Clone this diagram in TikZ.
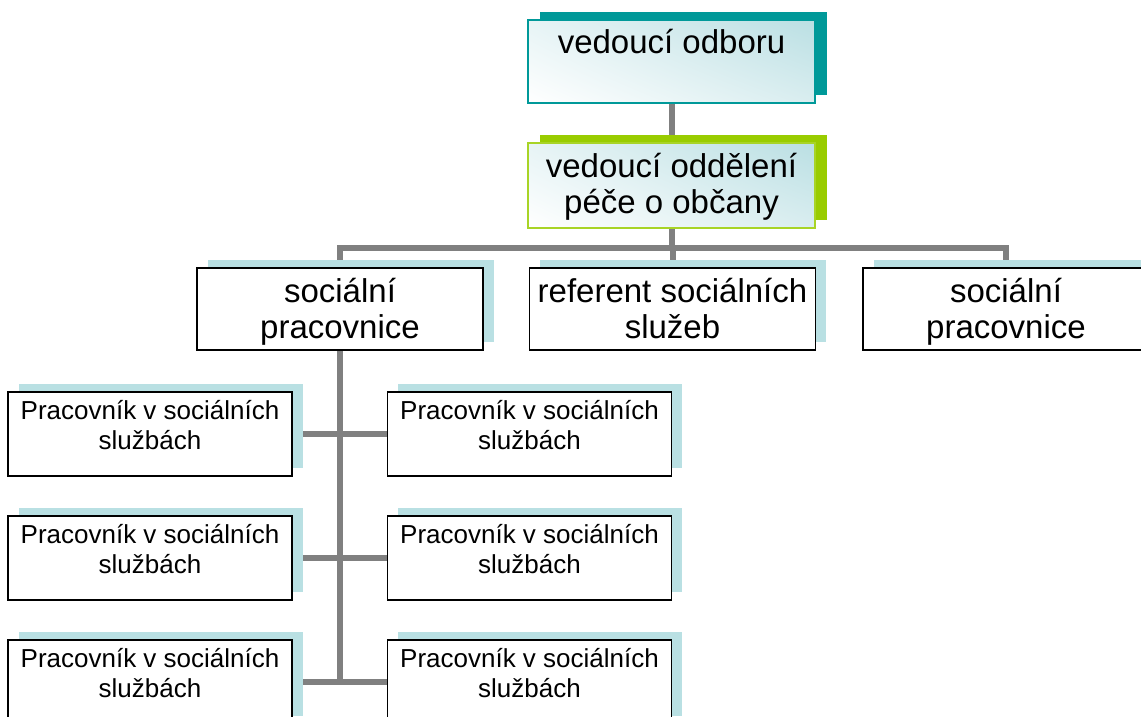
\documentclass[tikz,border=0pt]{standalone}
\usepackage{fontspec}
\newfontfamily\orgfont{Liberation Sans}
\usetikzlibrary{shadings}
\pgfdeclarelayer{lines}
\pgfdeclarelayer{shadows}
\pgfsetlayers{lines,shadows,main}
\definecolor{tealsh}{RGB}{0,153,153}
\definecolor{greensh}{RGB}{153,204,0}
\definecolor{bluesh}{RGB}{185,224,227}
\definecolor{linkgray}{RGB}{128,128,128}
\definecolor{shadeA}{RGB}{186,223,227}
\begin{document}
\begin{tikzpicture}[x=1pt,y=-1pt,
  box/.style={rectangle, inner sep=0pt, outer sep=0pt, draw=black, line width=1.5pt, fill=white},
  gradbox/.style={rectangle, inner sep=0pt, outer sep=0pt, line width=1.3pt,
    lower left=white, upper right=shadeA, upper left=shadeA!35!white, lower right=shadeA!55!white},
  topbox/.style={gradbox, draw=tealsh, minimum width=287pt, minimum height=83pt},
  secbox/.style={gradbox, draw=greensh!85!white, line width=1.6pt, minimum width=287pt, minimum height=85pt},
  midbox/.style={box, minimum width=286pt, minimum height=82pt},
  lowbox/.style={box, minimum width=284pt, minimum height=84pt},
  biglabel/.style={align=center, inner sep=0pt, font=\orgfont\fontsize{33}{36}\selectfont},
  smalllabel/.style={align=center, inner sep=0pt, font=\orgfont\fontsize{26}{30}\selectfont},
  link/.style={draw=linkgray, line width=6pt},
]
\useasboundingbox (0,0) rectangle (1141,717);
\clip (0,0) rectangle (1141,717);

% boxes
\node[topbox] (top) at (671.5,61.5) {};
\node[secbox] (sec) at (671.5,185.5) {};
\node[midbox] (sp1) at (340,309) {};
\node[midbox] (ref) at (672.5,309) {};
\node[midbox] (sp2) at (1006,309) {};
\node[lowbox] (w1l) at (150,434) {};
\node[lowbox] (w1r) at (529.5,434) {};
\node[lowbox] (w2l) at (150,558) {};
\node[lowbox] (w2r) at (529.5,558) {};
\node[lowbox] (w3l) at (150,682) {};
\node[lowbox] (w3r) at (529.5,682) {};

% labels
\node[biglabel] (ttop) at (671.5,46.8) {vedoucí odboru\strut};
\node[biglabel] (tsec) at (671.5,187.8) {vedoucí oddělení\strut\\péče o občany\strut};
\node[biglabel] (tsp1) at (340,312.8) {sociální\strut\\pracovnice\strut};
\node[biglabel] (tref) at (672.5,312.8) {referent sociálních\strut\\služeb\strut};
\node[biglabel] (tsp2) at (1006,312.8) {sociální\strut\\pracovnice\strut};
\foreach \n/\x/\y in {a/150/428, b/529.5/428, c/150/552, d/529.5/552, e/150/676, f/529.5/676}
  \node[smalllabel] (tw\n) at (\x,\y) {Pracovník v sociálních\strut\\službách\strut};

% shadows
\begin{pgfonlayer}{shadows}
  \clip (0,0) rectangle (1141,717);
  \fill[tealsh] ([shift={(11.5,-8)}]top.south west) rectangle ([shift={(11.5,-8)}]top.north east);
  \fill[greensh] ([shift={(11.5,-8)}]sec.south west) rectangle ([shift={(11.5,-8)}]sec.north east);
  \foreach \b in {sp1,ref,sp2,w1l,w1r,w2l,w2r,w3l,w3r}
    \fill[bluesh] ([shift={(10.5,-8)}]\b.south west) rectangle ([shift={(10.5,-8)}]\b.north east);
\end{pgfonlayer}

% connectors
\begin{pgfonlayer}{lines}
  \clip (0,0) rectangle (1141,717);
  \coordinate (bus) at ([yshift=-20pt]sec.south);
  \coordinate (j3) at (sp1.south |- w3l.east);
  \draw[link] (top.south) -- (sec.north);
  \draw[link] (sec.south) -- (bus);
  \draw[link] (sp1.north) |- (bus) -| (sp2.north);
  \draw[link] (ref.north |- bus) -- (ref.north);
  \draw[link] (sp1.south) -- (j3);
  \draw[link] (w1l.east) -- (w1r.west);
  \draw[link] (w2l.east) -- (w2r.west);
  \draw[link] (w3l.east) -- (w3r.west);
\end{pgfonlayer}
\end{tikzpicture}
\end{document}
